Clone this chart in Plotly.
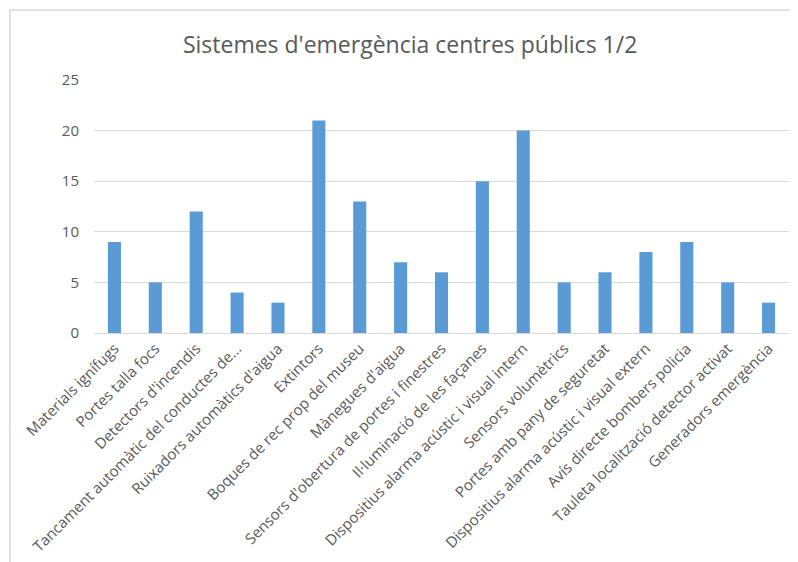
import plotly.graph_objects as go

categories = [
    'Materials ignífugs',
    'Portes talla focs',
    "Detectors d'incendis",
    'Tancament automàtic del conductes de...',
    "Ruixadors automàtics d'aigua",
    'Extintors',
    'Boques de rec prop del museu',
    "Mànegues d'aigua",
    "Sensors d'obertura de portes i finestres",
    'Il·luminació de les façanes',
    'Dispositius alarma acústic i visual intern',
    'Sensors volumètrics',
    'Portes amb pany de seguretat',
    'Dispositius alarma acústic i visual extern',
    'Avís directe bombers policia',
    'Tauleta localització detector activat',
    'Generadors emergència',
]
values = [9, 5, 12, 4, 3, 21, 13, 7, 6, 15, 20, 5, 6, 8, 9, 5, 3]
y_ticks = [0, 5, 10, 15, 20, 25]

text_color = '#595959'
grid_color = '#d9d9d9'
bar_color = '#5b9bd5'

fig = go.Figure(
    go.Bar(
        x=categories,
        y=values,
        marker=dict(color=bar_color, line=dict(width=0)),
    )
)

fig.update_layout(
    width=790,
    height=554,
    margin={'l': 86, 'r': 9, 't': 72, 'b': 229},
    paper_bgcolor='white',
    plot_bgcolor='white',
    bargap=0.68,
    showlegend=False,
    font=dict(family='Open Sans', color=text_color),
    title={
        'text': "Sistemes d'emergència centres públics 1/2",
        'x': 0.509,
        'xanchor': 'center',
        'y': 0.933,
        'yanchor': 'middle',
        'font': {'size': 23, 'color': text_color},
    },
    shapes=[
        dict(
            type='rect', xref='paper', yref='paper',
            x0=-0.1209, x1=1.05, y0=-1.0, y1=1.2767,
            line=dict(color=grid_color, width=1.5),
            fillcolor='rgba(0,0,0,0)', layer='below',
        )
    ],
)

fig.update_xaxes(
    type='category',
    tickangle=-45,
    tickfont=dict(size=15, color=text_color),
    showgrid=False,
    showline=True,
    linecolor=grid_color,
    linewidth=1,
    ticks='',
    automargin=False,
)

fig.update_yaxes(
    range=[0, 25],
    tickvals=y_ticks,
    tickfont=dict(size=15, color=text_color),
    showgrid=True,
    gridcolor=grid_color,
    gridwidth=1,
    zeroline=False,
    showline=False,
    ticks='',
    ticklabelstandoff=14,
    automargin=False,
)

fig.write_html('out.html')
